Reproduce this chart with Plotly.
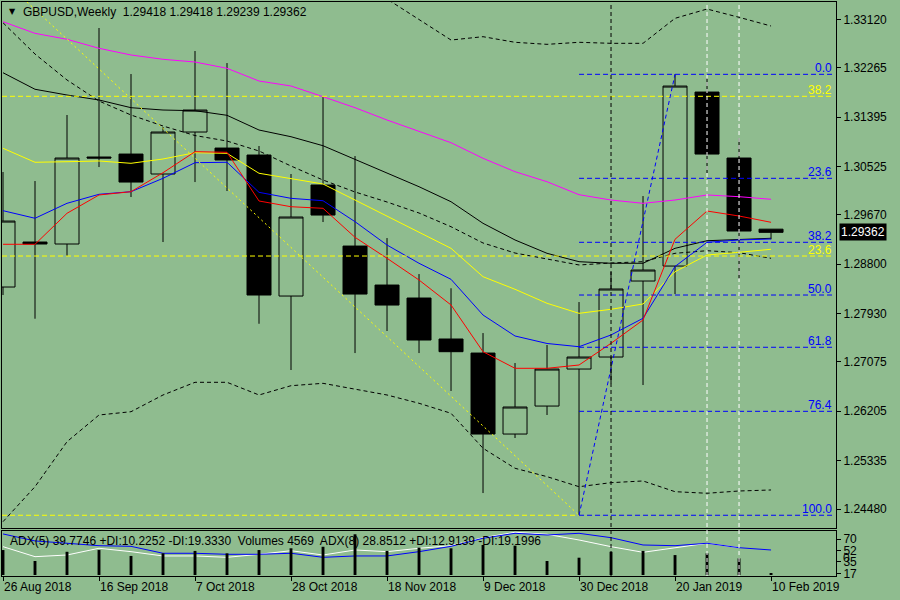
import plotly.graph_objects as go

# weekly GBPUSD bars, index 0 = week of 26 Aug 2018
weeks = list(range(25))
opens = [1.28397, 1.29191, 1.29156, 1.30691, 1.30743, 1.30391, 1.31132, 1.30849, 1.30726, 1.28238,
         1.30197, 1.29120, 1.28432, 1.28203, 1.27480, 1.27232, 1.25803, 1.26297, 1.26950, 1.27162,
         1.28503, 1.28767, 1.31837, 1.30673, 1.29418]
highs = [1.30426, 1.30267, 1.31432, 1.32967, 1.32155, 1.31220, 1.32561, 1.32349, 1.30885, 1.30391,
         1.31749, 1.30708, 1.29261, 1.28626, 1.28375, 1.27585, 1.27056, 1.27374, 1.28132, 1.28662,
         1.30002, 1.32150, 1.32084, 1.31026, 1.29418]
lows = [1.28256, 1.27838, 1.28944, 1.30514, 1.29985, 1.29191, 1.30249, 1.30091, 1.27749, 1.26933,
        1.29544, 1.27232, 1.27621, 1.27232, 1.26563, 1.24762, 1.25733, 1.26139, 1.24370, 1.26700,
        1.26668, 1.28273, 1.30408, 1.28538, 1.29239]
closes = [1.29561, 1.29156, 1.30673, 1.30673, 1.30249, 1.31132, 1.31520, 1.30638, 1.28256, 1.29632,
          1.29667, 1.28273, 1.28079, 1.27462, 1.27256, 1.25803, 1.26280, 1.26950, 1.27162, 1.28362,
          1.28697, 1.31943, 1.30743, 1.29385, 1.29362]

ma_magenta = [1.33078, 1.32873, 1.32768, 1.32609, 1.32491, 1.32415, 1.32367, 1.32256, 1.32032, 1.31944,
              1.31755, 1.31561, 1.31344, 1.31137, 1.30943, 1.30668, 1.30432, 1.30255, 1.30026, 1.29932,
              1.29874, 1.29932, 1.30021, 1.29991, 1.29945]
ma_black = [1.32178, 1.31886, 1.31785, 1.31697, 1.31561, 1.31520, 1.31508, 1.31427, 1.31167, 1.31049,
            1.30890, 1.30651, 1.30414, 1.30167, 1.29902, 1.29521, 1.29227, 1.28992, 1.28844, 1.28816,
            1.28816, 1.29080, 1.29214, 1.29239, 1.29257]
ma_yellow = [1.30845, 1.30598, 1.30608, 1.30621, 1.30580, 1.30656, 1.30767, 1.30756, 1.30404, 1.30303,
             1.30215, 1.29932, 1.29650, 1.29373, 1.29080, 1.28579, 1.28357, 1.28110, 1.27933, 1.28004,
             1.28098, 1.28667, 1.28962, 1.29010, 1.29063]
ma_blue = [1.29744, 1.29610, 1.29874, 1.30033, 1.30079, 1.30315, 1.30591, 1.30598, 1.30068, 1.29962,
           1.29920, 1.29550, 1.29138, 1.28816, 1.28533, 1.27903, 1.27533, 1.27401, 1.27344, 1.27551,
           1.27845, 1.28759, 1.29186, 1.29227, 1.29244]
ma_red = [1.29151, 1.29151, 1.29698, 1.30021, 1.30079, 1.30414, 1.30785, 1.30774, 1.29915, 1.29814,
          1.29786, 1.29274, 1.28904, 1.28521, 1.28080, 1.27256, 1.26963, 1.26963, 1.27021, 1.27404,
          1.27815, 1.29239, 1.29738, 1.29650, 1.29539]

bb_mid = [1.33060, 1.32508, 1.32050, 1.31679, 1.31432, 1.31238, 1.31070, 1.30973, 1.30797, 1.30532,
          1.30285, 1.30074, 1.29897, 1.29703, 1.29461, 1.29174, 1.28997, 1.28892, 1.28786, 1.28821,
          1.28844, 1.28992, 1.29038, 1.29003, 1.28904]
bb_lower = [1.24257, 1.24874, 1.25668, 1.26139, 1.26197, 1.26492, 1.26716, 1.26716, 1.26492, 1.26656,
            1.26698, 1.26593, 1.26492, 1.26346, 1.26169, 1.25552, 1.25199, 1.25051, 1.24874, 1.24945,
            1.24975, 1.24786, 1.24758, 1.24798, 1.24816]
bb_upper_weeks = list(range(10, 25))
bb_upper = [1.34167, 1.33814, 1.33479, 1.33120, 1.32755, 1.32814, 1.32715, 1.32679, 1.32715, 1.32697,
            1.32697, 1.33138, 1.33302, 1.33156, 1.33002]

volumes = [114000, 64000, 106000, 114000, 87000, 99000, 110000, 99000, 114000, 122000,
           129000, 186000, 110000, 125000, 122000, 137000, 134000, 64000, 79000, 106000,
           110000, 91000, 99000, 76000, 4569]
adx_blue = [78.3, 67.4, 63.8, 60.0, 59.0, 48.2, 48.2, 46.6, 46.6, 48.2, 41.9, 44.0, 44.0, 50.7, 59.0,
            71.6, 79.3, 76.7, 79.3, 72.5, 61.1, 60.0, 63.8, 56.9, 53.3]
adx_white = [58.5, 42.9, 45.5, 56.0, 50.7, 44.0, 44.0, 41.9, 46.6, 52.2, 45.5, 53.3, 50.7, 56.0, 60.0,
             72.5, 80.9, 77.8, 68.9, 58.5, 49.7, 56.9, 63.8, 56.9]

# fibo retracements
fib_low_week, fib_high_week = 18, 21
fib_low, fib_high = 1.24370, 1.32150
blue_fib_labels = ["0.0", "23.6", "38.2", "50.0", "61.8", "76.4", "100.0"]
blue_fib_prices = [1.32150, 1.30315, 1.29186, 1.28256, 1.27334, 1.26204, 1.24370]
yellow_fib_labels = ["38.2", "23.6"]
yellow_fib_prices = [1.31762, 1.28944]
yellow_diag_weeks = [0.75, 18]
yellow_diag_prices = [1.33426, 1.24370]

vline_black = [19]
vline_white = [22, 23]

price_ticks = [1.33120, 1.32265, 1.31395, 1.30525, 1.29670, 1.28800, 1.27930, 1.27075, 1.26205, 1.25335, 1.24480]
adx_ticks = [70, 52, 35, 17]
date_weeks = [0, 3, 6, 9, 12, 15, 18, 21, 24]
date_labels = ["26 Aug 2018", "16 Sep 2018", "7 Oct 2018", "28 Oct 2018", "18 Nov 2018",
               "9 Dec 2018", "30 Dec 2018", "20 Jan 2019", "10 Feb 2019"]
last_price = 1.29362

BG = "#8FBC8F"
FONT = "Liberation Sans"
XR = [-0.03125, 26.03]
RIGHT = 25.97

fig = go.Figure()

fig.add_trace(go.Candlestick(
    x=weeks, open=opens, high=highs, low=lows, close=closes,
    increasing=dict(fillcolor="rgba(0,0,0,0)", line=dict(color="black", width=1)),
    decreasing=dict(fillcolor="black", line=dict(color="black", width=1)),
    whiskerwidth=0, xaxis="x", yaxis="y", hoverinfo="skip"))

def line(x, y, color, dash="solid", xa="x", ya="y"):
    fig.add_trace(go.Scatter(x=x, y=y, mode="lines", xaxis=xa, yaxis=ya, hoverinfo="skip",
                             line=dict(color=color, width=1, dash=dash)))

line(weeks, bb_mid, "black", "4px,3px")
line(weeks, bb_lower, "black", "4px,3px")
line(bb_upper_weeks, bb_upper, "black", "4px,3px")
line(weeks, ma_magenta, "#FF00FF")
line(weeks, ma_black, "black")
line(weeks, ma_yellow, "#FFFF00")
line(weeks, ma_blue, "#0000FF")
line(weeks, ma_red, "#FF0000")

# fibo lines
for p in yellow_fib_prices:
    line([XR[0], RIGHT], [p, p], "#FFFF00", "5px,3px")
line([XR[0], fib_low_week], [fib_low, fib_low], "#FFFF00", "5px,3px")
line(yellow_diag_weeks, yellow_diag_prices, "#FFFF00", "2px,3px")
for p in blue_fib_prices:
    line([fib_low_week, RIGHT], [p, p], "#0000FF", "5px,3px")
line([fib_low_week, fib_high_week], [fib_low, fib_high], "#0000FF", "4px,3px")

# sub window
fig.add_trace(go.Bar(x=weeks, y=volumes, width=0.09, marker=dict(color="black", line=dict(width=0)),
                     xaxis="x2", yaxis="y3", hoverinfo="skip"))
line(weeks[:len(adx_white)], adx_white, "white", xa="x2", ya="y2")
line(weeks, adx_blue, "#0000FF", xa="x2", ya="y2")

shapes = []
for w in vline_black:
    shapes.append(dict(type="line", xref="x", yref="paper", x0=w, x1=w, y0=0, y1=1,
                       line=dict(color="black", width=1, dash="4px,3px")))
for w in vline_white:
    shapes.append(dict(type="line", xref="x", yref="paper", x0=w, x1=w, y0=0, y1=1,
                       line=dict(color="white", width=1, dash="4px,3px")))

ann = []
for lab, p in zip(blue_fib_labels, blue_fib_prices):
    ann.append(dict(x=RIGHT, y=p, xref="x", yref="y", text=lab, showarrow=False, xanchor="right",
                    yanchor="bottom", yshift=-3, font=dict(family=FONT, size=12, color="#0000FF")))
for lab, p in zip(yellow_fib_labels, yellow_fib_prices):
    ann.append(dict(x=RIGHT, y=p, xref="x", yref="y", text=lab, showarrow=False, xanchor="right",
                    yanchor="bottom", yshift=-3, font=dict(family=FONT, size=12, color="#FFFF00")))
for w, lab in zip(date_weeks, date_labels):
    ann.append(dict(x=w, y=-0.0195, xref="x2", yref="paper", text=lab, showarrow=False, xanchor="left",
                    yanchor="middle", xshift=-1, font=dict(family=FONT, size=12, color="black")))
ann.append(dict(x=1, y=last_price, xref="paper", yref="y", text="1.29362", showarrow=False,
                xanchor="left", xshift=3, bgcolor="black", borderpad=1,
                font=dict(family=FONT, size=12, color="white")))
ann.append(dict(x=0.006, y=0.9826, xref="paper", yref="paper", text="▼", showarrow=False,
                xanchor="left", yanchor="middle", font=dict(family="DejaVu Sans", size=8, color="black")))
ann.append(dict(x=0.0228, y=0.9826, xref="paper", yref="paper",
                text="GBPUSD,Weekly  1.29418 1.29418 1.29239 1.29362", showarrow=False,
                xanchor="left", yanchor="middle", font=dict(family=FONT, size=12, color="black")))
ann.append(dict(x=0.0072, y=0.061, xref="paper", yref="paper",
                text="ADX(5) 39.7746 +DI:10.2252 -DI:19.3330  Volumes 4569  ADX(8) 28.8512 +DI:12.9139 -DI:19.1996",
                showarrow=False, xanchor="left", yanchor="middle", font=dict(family=FONT, size=12, color="black")))
ann.append(dict(x=1, y=0.016, xref="paper", yref="paper", text="0", showarrow=False, xanchor="left",
                xshift=5, font=dict(family=FONT, size=12, color="black")))

axis_common = dict(showgrid=False, zeroline=False, showline=True, mirror=True, linecolor="black",
                   linewidth=1, tickcolor="black")

fig.update_layout(
    width=900, height=600,
    margin=dict(l=2, r=64, t=2, b=24),
    paper_bgcolor=BG, plot_bgcolor=BG,
    showlegend=False,
    shapes=shapes, annotations=ann,
    xaxis=dict(domain=[0, 1], range=XR, anchor="y", showticklabels=False, ticks="",
               rangeslider=dict(visible=False), **axis_common),
    yaxis=dict(domain=[0.0836, 1], range=[1.24145, 1.33426], side="right", anchor="x",
               tickvals=price_ticks, ticktext=["%.5f" % v for v in price_ticks],
               ticks="outside", ticklen=4, tickfont=dict(family=FONT, size=12, color="black"),
               **axis_common),
    xaxis2=dict(domain=[0, 1], range=XR, anchor="y2", matches="x", tickvals=date_weeks,
                showticklabels=False, ticks="outside", ticklen=4, **axis_common),
    yaxis2=dict(domain=[0, 0.0784], range=[12.8, 82.9], side="right", anchor="x2",
                tickvals=adx_ticks, ticks="outside", ticklen=4,
                tickfont=dict(family=FONT, size=12, color="black"), **axis_common),
    yaxis3=dict(overlaying="y2", range=[-4600, 201000], visible=False, anchor="x2"),
    boxgap=0.25, boxgroupgap=0,
    font=dict(family=FONT, size=12, color="black"),
)

# page body has a default margin; drop it so the figure sits at the window corner
fig.write_html("out.html", config={"displayModeBar": False},
               post_script="document.body.style.margin='0';document.body.style.overflow='hidden';")
